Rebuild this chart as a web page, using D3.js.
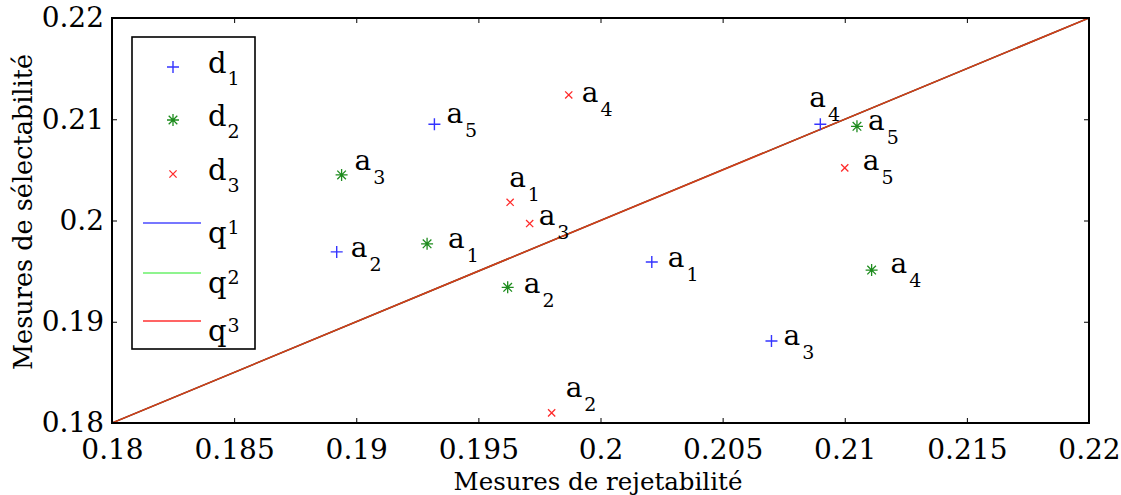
<!DOCTYPE html>
<html><head><meta charset="utf-8">
<script src="https://cdn.jsdelivr.net/npm/d3@7"></script>
<style>body{margin:0;background:#fff}text{font-family:"DejaVu Serif",serif;fill:#000}</style>
</head><body>
<svg id="chart" width="1121" height="495"></svg>
<script>
// ---- data ----
const seriesNames = ["d", "d", "d"];
const seriesIdx = ["1", "2", "3"];
const pointNames = ["1", "2", "3", "4", "5"]; // a1..a5
const d1X = [0.2021, 0.1892, 0.2070, 0.2090, 0.1932];
const d1Y = [0.1959, 0.1969, 0.1881, 0.2095, 0.2095];
const d2X = [0.1929, 0.1962, 0.1894, 0.2111, 0.2105];
const d2Y = [0.1977, 0.1934, 0.2045, 0.1951, 0.2093];
const d3X = [0.1963, 0.1980, 0.1971, 0.1987, 0.2100];
const d3Y = [0.2018, 0.1810, 0.1997, 0.2124, 0.2052];
const lineNames = ["q", "q", "q"];
const lineX = [0.18, 0.22];
const lineY = [0.18, 0.22];
const xTicks = [0.18, 0.185, 0.19, 0.195, 0.2, 0.205, 0.21, 0.215, 0.22];
const xTickLabels = ["0.18", "0.185", "0.19", "0.195", "0.2", "0.205", "0.21", "0.215", "0.22"];
const yTicks = [0.18, 0.19, 0.2, 0.21, 0.22];
const yTickLabels = ["0.18", "0.19", "0.2", "0.21", "0.22"];
const xTitle = "Mesures de rejetabilité";
const yTitle = "Mesures de sélectabilité";

// label placement (pixel offsets from point), per series
const labDX = [[16, 14, 12, -11, 12], [21, 16, 13, 19, 11], [-1, 14, 9, 13, 18]];
const labDY = [[5, 5, 4, -17, -1], [4, 6, -5, 3, 4], [-15, -16, 1, 7, 2]];

const markerColors = ["#3434ff", "#1e8c1e", "#ff2a2a"];
const lineColors = ["#4a4aff", "#6af06a", "#ff3030"];
const diagColors = ["#0000ff", "#00c000", "#d43c18"];

// ---- layout ----
const svg = d3.select("#chart");
const L = 112, R = 1089, T = 18, B = 423;
const x = d3.scaleLinear().domain([0.18, 0.22]).range([L, R]);
const y = d3.scaleLinear().domain([0.18, 0.22]).range([B, T]);

// axes
const fs = 28;
const ax = svg.append("g").attr("transform", `translate(0,${B})`)
  .call(d3.axisBottom(x).tickValues(xTicks).tickFormat((d, i) => xTickLabels[i]).tickSize(-5).tickPadding(16));
const axT = svg.append("g").attr("transform", `translate(0,${T})`)
  .call(d3.axisTop(x).tickValues(xTicks).tickFormat("").tickSize(-5));
const ay = svg.append("g").attr("transform", `translate(${L},0)`)
  .call(d3.axisLeft(y).tickValues(yTicks).tickFormat((d, i) => yTickLabels[i]).tickSize(-5).tickPadding(8));
const ayR = svg.append("g").attr("transform", `translate(${R},0)`)
  .call(d3.axisRight(y).tickValues(yTicks).tickFormat("").tickSize(-5));
[ax, axT, ay, ayR].forEach(g => {
  g.select(".domain").remove();
  g.selectAll(".tick line").attr("stroke", "#000").attr("stroke-width", 1);
  g.selectAll("text").attr("font-family", "DejaVu Serif").attr("font-size", fs).attr("fill", "#000");
});

// diagonal lines q1,q2,q3 (overlapping, q3 on top)
const lineGen = d3.line().x(d => x(d[0])).y(d => y(d[1]));
const linePts = lineX.map((v, i) => [v, lineY[i]]);
diagColors.forEach((c, i) => {
  svg.append("path").datum(linePts).attr("d", lineGen).attr("stroke", c)
    .attr("stroke-width", i === 2 ? 1.7 : 1.2).attr("fill", "none");
});

// box
svg.append("rect").attr("x", L).attr("y", T).attr("width", R - L).attr("height", B - T)
  .attr("fill", "none").attr("stroke", "#000").attr("stroke-width", 2);

// markers
function drawMarker(g, kind, cx, cy, color) {
  if (kind === 0) {
    g.append("path").attr("d", `M${cx - 6},${cy}H${cx + 6}M${cx},${cy - 6}V${cy + 6}`)
      .attr("stroke", color).attr("stroke-width", 1.4).attr("fill", "none");
  } else if (kind === 1) {
    const r = 6, s = 4.3;
    g.append("path").attr("d", `M${cx - r},${cy}H${cx + r}M${cx},${cy - r}V${cy + r}M${cx - s},${cy - s}L${cx + s},${cy + s}M${cx - s},${cy + s}L${cx + s},${cy - s}`)
      .attr("stroke", color).attr("stroke-width", 1.3).attr("fill", "none");
  } else {
    const s = 3.6;
    g.append("path").attr("d", `M${cx - s},${cy - s}L${cx + s},${cy + s}M${cx - s},${cy + s}L${cx + s},${cy - s}`)
      .attr("stroke", color).attr("stroke-width", 1.3).attr("fill", "none");
  }
}
const allX = [d1X, d2X, d3X], allY = [d1Y, d2Y, d3Y];
const pg = svg.append("g");
allX.forEach((xs, s) => {
  xs.forEach((v, i) => {
    const cx = x(v), cy = y(allY[s][i]);
    drawMarker(pg, s, cx, cy, markerColors[s]);
    const t = pg.append("text").attr("x", cx + labDX[s][i]).attr("y", cy + labDY[s][i]).attr("font-size", 28);
    t.append("tspan").text("a");
    t.append("tspan").attr("dy", 14).attr("dx", 2).attr("font-size", 19).text(pointNames[i]);
  });
});

// legend
const lg = svg.append("g");
lg.append("rect").attr("x", 132).attr("y", 37).attr("width", 123).attr("height", 312)
  .attr("fill", "#fff").attr("stroke", "#000").attr("stroke-width", 1.6);
const dRowY = [67, 120, 174];
seriesNames.forEach((n, s) => {
  drawMarker(lg, s, 173, dRowY[s], markerColors[s]);
  const t = lg.append("text").attr("x", 208).attr("y", dRowY[s] + 6).attr("font-size", 29);
  t.append("tspan").text(n);
  t.append("tspan").attr("dy", 12).attr("dx", 1).attr("font-size", 19).text(seriesIdx[s]);
});
const qRowY = [223, 273, 321];
lineNames.forEach((n, s) => {
  lg.append("line").attr("x1", 143).attr("x2", 201).attr("y1", qRowY[s]).attr("y2", qRowY[s])
    .attr("stroke", lineColors[s]).attr("stroke-width", 1.6);
  const t = lg.append("text").attr("x", 208).attr("y", qRowY[s] + 20).attr("font-size", 29);
  t.append("tspan").text(n);
  t.append("tspan").attr("dy", -9).attr("dx", 1).attr("font-size", 19).text(seriesIdx[s]);
});

// titles
svg.append("text").attr("x", 598).attr("y", 490).attr("text-anchor", "middle")
  .attr("font-size", 24.5).text(xTitle);
svg.append("text").attr("transform", `translate(32,212) rotate(-90)`).attr("text-anchor", "middle")
  .attr("font-size", 25.5).text(yTitle);
</script>
</body></html>
